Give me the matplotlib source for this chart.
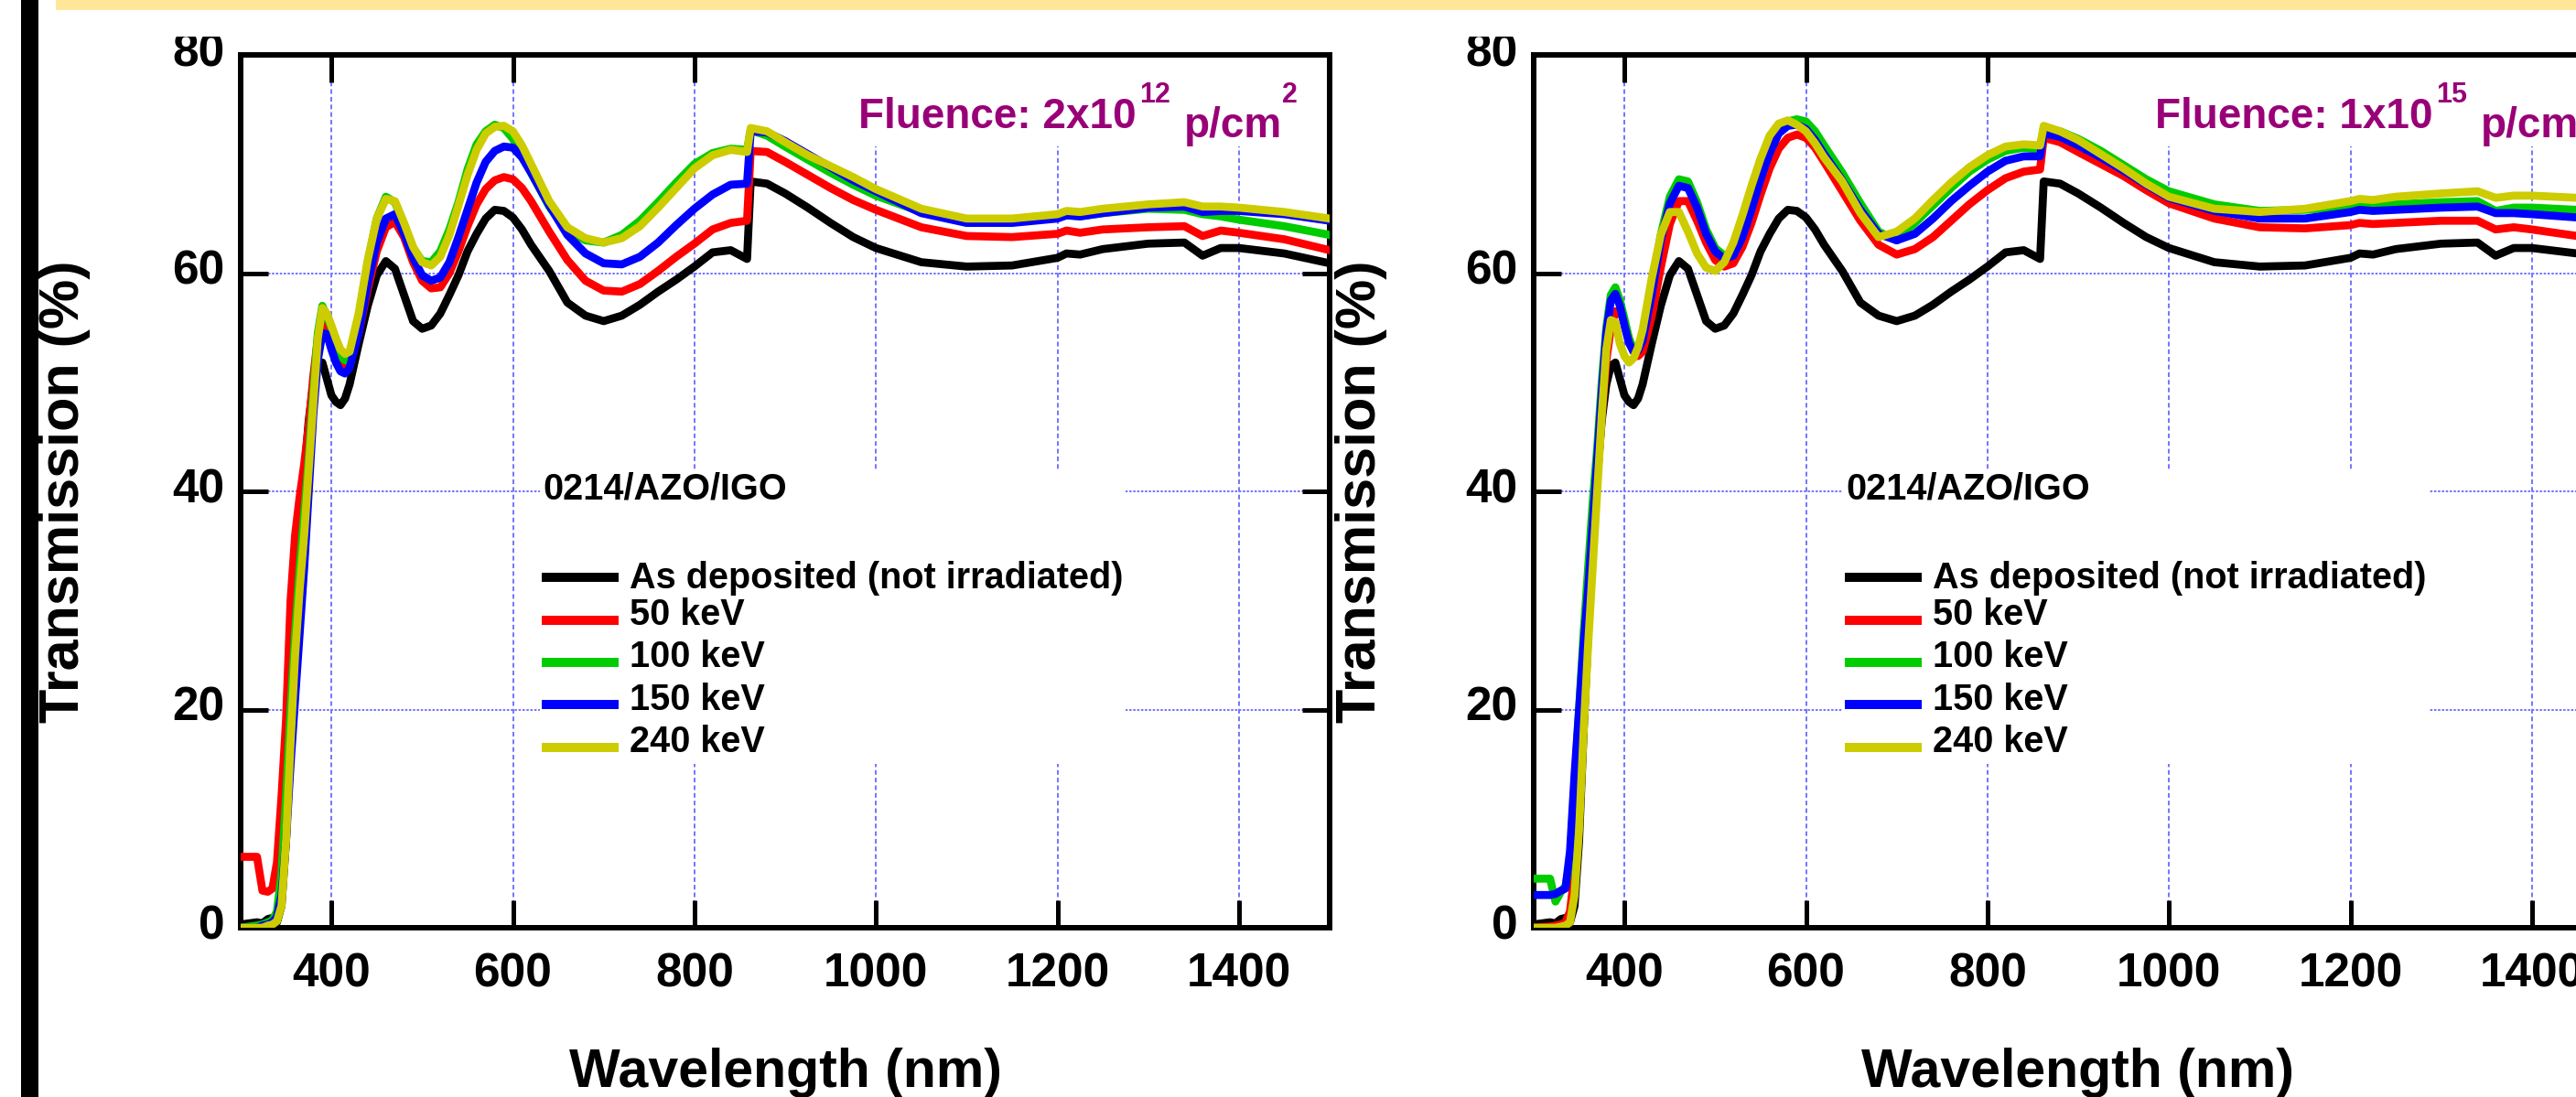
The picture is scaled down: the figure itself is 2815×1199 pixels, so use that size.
import matplotlib
matplotlib.use('Agg')
import matplotlib.pyplot as plt
from matplotlib.patches import Rectangle
from matplotlib.transforms import ScaledTranslation

plt.rcParams['font.family'] = ['Liberation Sans', 'DejaVu Sans']
plt.rcParams['font.weight'] = 'bold'
plt.rcParams['axes.labelweight'] = 'bold'

W, H = 2815, 1199
DPI = 100

# wavelength grid (nm), shared by every curve
wavelength = [
    300, 318, 324, 330, 335, 340, 345, 350, 355, 360,
    365, 370, 375, 380, 385, 390, 395, 400, 405, 410,
    415, 420, 430, 440, 450, 460, 470, 480, 490, 500,
    510, 520, 530, 540, 550, 560, 570, 580, 590, 600,
    610, 620, 640, 660, 680, 700, 720, 740, 760, 780,
    800, 820, 840, 858, 862, 880, 900, 925, 950, 975,
    1000, 1050, 1100, 1150, 1200, 1210, 1225, 1250, 1300, 1340,
    1360, 1380, 1400, 1450, 1500,
]

# transmission (%) - as deposited film, same reference in both panels
as_deposited = [
    0.3, 0.5, 0.4, 0.8, 0.9, 0.5, 2.0, 8.0, 18.0, 27.0,
    35.0, 41.5, 46.5, 49.8, 51.5, 51.8, 50.3, 48.8, 48.2, 47.9,
    48.5, 49.8, 53.5, 57.0, 59.8, 61.1, 60.4, 58.0, 55.6, 54.9,
    55.2, 56.3, 58.0, 59.8, 62.0, 63.6, 65.0, 65.8, 65.7, 65.1,
    64.0, 62.6, 60.2, 57.3, 56.1, 55.6, 56.1, 57.1, 58.3, 59.4,
    60.6, 61.9, 62.1, 61.3, 68.4, 68.2, 67.3, 66.0, 64.6, 63.3,
    62.3, 61.0, 60.6, 60.7, 61.4, 61.8, 61.7, 62.2, 62.7, 62.8,
    61.6, 62.3, 62.3, 61.8, 60.9,
]

# fluence 2x10^12 p/cm2
f12_50kev = [
    6.5, 6.5, 3.4, 3.3, 3.6, 6.0, 12.0, 19.0, 30.0, 36.0,
    39.5, 42.5, 46.0, 50.5, 54.0, 55.8, 55.0, 53.5, 52.2, 51.5,
    51.4, 51.8, 54.5, 58.5, 62.0, 64.2, 64.7, 63.3, 61.0, 59.3,
    58.6, 58.7, 60.0, 62.0, 64.3, 66.3, 67.7, 68.5, 68.8, 68.6,
    67.8, 66.6, 63.8, 61.2, 59.3, 58.4, 58.3, 59.0, 60.2, 61.5,
    62.7, 64.0, 64.6, 64.8, 71.2, 71.1, 70.2, 69.0, 67.8, 66.7,
    65.8, 64.2, 63.4, 63.3, 63.6, 63.9, 63.7, 64.0, 64.2, 64.3,
    63.4, 63.9, 63.7, 63.1, 62.1,
]
f12_100kev = [
    0.0, 0.2, 0.3, 0.5, 0.7, 1.5, 5.0, 12.0, 20.0, 27.0,
    33.0, 38.0, 43.0, 49.0, 54.5, 57.0, 56.0, 55.0, 53.5, 52.4,
    52.0, 52.3, 56.0, 61.0, 65.0, 67.0, 66.5, 64.5, 62.3, 61.1,
    61.0, 62.0, 64.0, 66.5, 69.5, 71.8, 73.0, 73.6, 73.3, 72.3,
    70.9, 69.2, 66.1, 63.9, 63.0, 62.8, 63.5, 64.8, 66.5, 68.3,
    70.0, 71.0, 71.4, 71.3, 73.1, 72.6, 71.6, 70.4, 69.2, 68.1,
    67.1, 65.6, 64.8, 64.8, 65.1, 65.3, 65.2, 65.5, 65.9, 65.8,
    65.4, 65.2, 64.9, 64.3, 63.5,
]
f12_150kev = [
    0.0, 0.0, 0.2, 0.3, 0.5, 1.0, 3.0, 8.0, 15.0, 21.0,
    27.0, 33.0, 40.0, 47.0, 52.0, 54.5, 54.4, 53.0, 51.8, 51.0,
    50.8, 51.3, 54.5, 59.0, 62.8, 65.0, 65.4, 63.6, 61.4, 59.8,
    59.3, 59.6, 61.0, 63.3, 65.8, 68.3, 70.2, 71.2, 71.6, 71.5,
    70.6, 69.2, 66.2, 63.5, 61.8, 60.9, 60.8, 61.5, 62.8, 64.4,
    65.9, 67.2, 68.1, 68.2, 73.0, 72.9, 72.1, 70.9, 69.7, 68.5,
    67.5, 65.5, 64.6, 64.6, 65.0, 65.3, 65.2, 65.5, 66.0, 66.1,
    65.6, 65.7, 65.7, 65.4, 64.8,
]
f12_240kev = [
    0.0, 0.0, 0.0, 0.2, 0.3, 0.6, 2.0, 8.0, 17.0, 25.0,
    31.0, 36.0, 42.0, 48.0, 54.0, 56.8, 56.3, 55.2, 54.0, 53.0,
    52.6, 52.8, 56.3, 61.2, 65.0, 66.8, 66.6, 64.6, 62.4, 61.0,
    60.7, 61.5, 63.5, 66.2, 69.0, 71.3, 72.8, 73.4, 73.5, 73.0,
    71.7, 70.0, 66.6, 64.2, 63.2, 62.8, 63.2, 64.3, 66.0, 67.8,
    69.6, 70.8, 71.3, 71.1, 73.3, 73.0, 72.0, 70.8, 69.8, 68.8,
    67.7, 65.9, 65.0, 65.0, 65.4, 65.7, 65.6, 65.9, 66.3, 66.5,
    66.1, 66.1, 66.0, 65.6, 65.0,
]

# fluence 1x10^15 p/cm2
f15_50kev = [
    0.0, 0.1, 0.2, 0.3, 0.5, 1.5, 5.0, 12.0, 20.0, 28.0,
    35.0, 41.0, 47.0, 52.0, 55.0, 56.5, 56.5, 55.5, 54.0, 52.8,
    52.4, 52.8, 56.0, 60.5, 64.5, 66.6, 66.6, 64.8, 62.8, 61.2,
    60.6, 60.9, 62.4, 64.6, 67.2, 69.6, 71.4, 72.4, 72.7, 72.4,
    71.5, 70.2, 67.5, 64.8, 62.6, 61.7, 62.2, 63.3, 64.8, 66.3,
    67.6, 68.7, 69.3, 69.5, 72.4, 72.0, 71.1, 70.0, 68.9, 67.6,
    66.4, 65.0, 64.2, 64.1, 64.4, 64.6, 64.5, 64.6, 64.8, 64.8,
    64.0, 64.2, 64.0, 63.4, 62.8,
]
f15_100kev = [
    4.5, 4.5, 2.4, 3.3, 3.8, 6.0, 13.0, 20.0, 27.0, 33.0,
    39.0, 44.0, 50.0, 55.0, 58.0, 58.7, 57.5, 55.8, 54.0, 53.0,
    53.0, 54.0, 58.5, 63.5, 67.0, 68.6, 68.4, 66.5, 64.0, 62.3,
    61.6, 62.0, 63.8, 66.4, 69.2, 71.6, 73.2, 73.9, 74.1, 73.9,
    73.0, 71.7, 69.2, 66.4, 63.8, 63.0, 64.6, 66.2, 67.8, 69.3,
    70.4, 71.2, 71.5, 71.3, 73.3, 73.0, 72.3, 71.2, 69.9, 68.6,
    67.5, 66.3, 65.7, 65.8, 66.1, 66.3, 66.2, 66.3, 66.5, 66.6,
    65.7, 66.0, 66.0, 65.8, 65.4,
]
f15_150kev = [
    3.0, 3.0, 3.1, 3.4, 3.6, 7.0, 14.0, 20.0, 26.0, 31.0,
    37.0, 43.0, 49.0, 54.5, 57.5, 58.1, 57.0, 55.2, 53.6, 52.8,
    52.9, 53.8, 58.0, 63.0, 66.4, 68.0, 67.8, 66.0, 63.6, 62.0,
    61.3, 61.6, 63.3, 65.8, 68.6, 71.0, 72.8, 73.5, 73.6, 73.2,
    72.2, 70.9, 68.5, 65.8, 63.6, 63.0, 63.6, 65.0, 66.6, 68.0,
    69.3, 70.3, 70.7, 70.7, 72.8, 72.5, 71.7, 70.6, 69.4, 68.1,
    66.9, 65.7, 65.0, 65.0, 65.6, 65.8, 65.7, 65.8, 66.0, 66.1,
    65.5, 65.5, 65.4, 65.1, 64.7,
]
f15_240kev = [
    0.0, 0.0, 0.0, 0.1, 0.2, 0.5, 3.0, 9.0, 18.0, 26.0,
    33.0, 40.0, 47.0, 53.0, 55.7, 55.5, 53.5, 52.4, 51.8, 52.2,
    53.2, 54.8, 59.5, 63.5, 65.6, 65.6, 63.8, 61.8, 60.5, 60.2,
    61.0, 62.8, 65.3, 68.0, 70.5, 72.6, 73.7, 74.0, 73.6, 73.0,
    71.9, 70.6, 68.4, 65.5, 63.3, 63.8, 65.0, 66.7, 68.3, 69.7,
    70.8, 71.6, 71.8, 71.7, 73.5, 73.0, 72.2, 70.9, 69.6, 68.2,
    67.0, 65.9, 65.6, 65.9, 66.6, 66.8, 66.7, 67.0, 67.3, 67.5,
    66.9, 67.1, 67.1, 66.9, 66.5,
]

series_labels = ['As deposited (not irradiated)', '50 keV', '100 keV', '150 keV', '240 keV']
series_colors = ['#000000', '#FF0000', '#00CC00', '#0000FF', '#CCCC00']
x_ticks = [400, 600, 800, 1000, 1200, 1400]
y_ticks = [0, 20, 40, 60, 80]
sample_name = '0214/AZO/IGO'

GRID_COLOR = '#7474FF'
FLUENCE_COLOR = '#990077'


def px_box(left, top, width, height):
    return [left / W, 1 - (top + height) / H, width / W, height / H]


def draw_panel(ax, curves, mantissa, exponent, fl_x, text_x, legend_x, ylabel_x):
    for y, color, label in zip(curves, series_colors, series_labels):
        ax.plot(wavelength, y, color=color, lw=6.3, label=label, zorder=3)

    ax.set_xlim(300, 1500)
    ax.set_ylim(0, 80)
    ax.set_xticks(x_ticks)
    ax.set_yticks(y_ticks)

    for side in ax.spines.values():
        side.set_linewidth(4.3)
    ax.tick_params(which='major', direction='in', length=21.6, width=3.6,
                   top=True, right=True, labelsize=37)
    ax.tick_params(axis='x', pad=19.4)
    ax.tick_params(axis='y', pad=12.5)

    # y labels sit a little above their tick, as in the original
    nudge = ScaledTranslation(0, 5 / 72, fig.dpi_scale_trans)
    for lab in ax.get_yticklabels():
        lab.set_transform(lab.get_transform() + nudge)

    ax.set_axisbelow(True)
    ax.xaxis.grid(True, color=GRID_COLOR, lw=1.4, linestyle=(0, (2.6, 1.7)))
    ax.yaxis.grid(True, color=GRID_COLOR, lw=1.4, linestyle=(0, (1.3, 0.9)))

    # white boxes behind the annotations hide the grid there
    ax.add_patch(Rectangle((fl_x - 6, 71.6), 1520 - fl_x, 9, facecolor='white',
                           edgecolor='none', zorder=1.5))
    ax.add_patch(Rectangle((text_x - 3, 15.0), 645, 27.0, facecolor='white',
                           edgecolor='none', zorder=1.5))

    # Fluence label with the odd offsets of the original
    ax.text(fl_x, 73.3, mantissa, color=FLUENCE_COLOR, fontsize=33, va='baseline', zorder=4)
    ax.text(fl_x + 309, 75.6, exponent, color=FLUENCE_COLOR, fontsize=22, va='baseline', zorder=4)
    ax.text(fl_x + 359, 72.45, 'p/cm', color=FLUENCE_COLOR, fontsize=33, va='baseline', zorder=4)
    ax.text(fl_x + 467, 75.6, '2', color=FLUENCE_COLOR, fontsize=22, va='baseline', zorder=4)

    ax.text(text_x, 39.3, sample_name, fontsize=28.5, va='baseline', zorder=4)

    leg = ax.legend(loc='upper left', bbox_to_anchor=(legend_x, 0.418), frameon=False,
                    fontsize=28.5, handlelength=1.87, handletextpad=0.43,
                    labelspacing=0.21, borderpad=0, borderaxespad=0)
    for line in leg.get_lines():
        line.set_linewidth(7.2)
    # labels ride above their line sample
    for i, txt in enumerate(leg.get_texts()):
        txt.set_position((0, 2 if i == 0 else 8.5))

    ax.set_xlabel('Wavelength (nm)', fontsize=42.5, va='baseline')
    ax.xaxis.set_label_coords(0.5, -0.1824)
    ax.set_ylabel('Transmission (%)', fontsize=44, va='center')
    ax.yaxis.set_label_coords(ylabel_x, 0.5)


fig = plt.figure(figsize=(W / DPI, H / DPI), dpi=DPI)

ax_left = fig.add_axes(px_box(263, 60, 1190, 954))
draw_panel(ax_left, [as_deposited, f12_50kev, f12_100kev, f12_150kev, f12_240kev],
           'Fluence: 2x10', '12', fl_x=981, text_x=633, legend_x=0.2803, ylabel_x=-0.162)

# the second panel runs past the right edge of the picture
ax_right = fig.add_axes(px_box(1676, 60, 1190, 954))
draw_panel(ax_right, [as_deposited, f15_50kev, f15_100kev, f15_150kev, f15_240kev],
           'Fluence: 1x10', '15', fl_x=985, text_x=644, legend_x=0.2899, ylabel_x=-0.158)

# page decorations around the crop
fig.add_artist(Rectangle((23 / W, 0), 19 / W, 1, transform=fig.transFigure,
                         facecolor='black', edgecolor='none', zorder=5))
fig.add_artist(Rectangle((61 / W, 1 - 11 / H), 1, 11 / H, transform=fig.transFigure,
                         facecolor='#FFE699', edgecolor='none', zorder=5))
fig.add_artist(Rectangle((61 / W, 1 - 40 / H), 1, 29 / H, transform=fig.transFigure,
                         facecolor='white', edgecolor='none', zorder=5))

fig.savefig('out.png', dpi=DPI)
